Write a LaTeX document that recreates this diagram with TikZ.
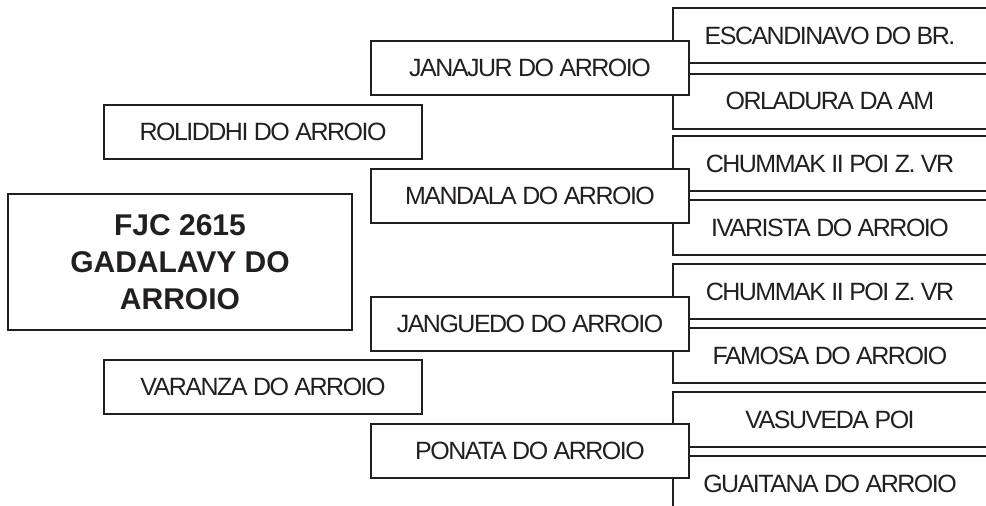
\documentclass[tikz,border=0pt]{standalone}
\usepackage{fontspec}
\setmainfont{Liberation Sans}
\newfontfamily\tightfont[LetterSpace=-6]{Liberation Sans}
\definecolor{ink}{RGB}{35,31,32}
\begin{document}
\begin{tikzpicture}[x=1pt,y=-1pt,
  line width=2pt, draw=ink, text=ink,
  lbox/.style={draw, fill=white, inner sep=0pt, minimum width=318pt, minimum height=54pt,
    font=\tightfont\fontsize{25}{30}\selectfont},
  rbox/.style={inner sep=0pt, minimum width=312pt, minimum height=53pt,
    font=\tightfont\fontsize{25}{30}\selectfont},
  mainbox/.style={draw, fill=white, inner sep=0pt, minimum width=344pt, minimum height=136pt,
    align=center, font=\fontsize{30}{37}\selectfont\bfseries},
  open/.style={draw=ink, line width=2pt}
]
\useasboundingbox (0,0) rectangle (986,506);

% right column (great-grandparents)
\node[rbox] (e1) at (830,35.5) {ESCANDINAVO DO BR.};
\node[rbox] (e2) at (830,101) {ORLADURA DA AM};
\node[rbox] (e3) at (830,163.5) {CHUMMAK II POI Z. VR};
\node[rbox] (e4) at (830,227.5) {IVARISTA DO ARROIO};
\node[rbox] (e5) at (830,291.5) {CHUMMAK II POI Z. VR};
\node[rbox] (e6) at (830,355.5) {FAMOSA DO ARROIO};
\node[rbox] (e7) at (830,419.5) {VASUVEDA POI};
\node[rbox] (e8) at (830,483.5) {GUAITANA DO ARROIO};

\foreach \n in {e1,e2,e3,e4,e5,e6,e7}{
  \draw[open] (\n.north east) -- (\n.north west) -- (\n.south west) -- (\n.south east);
}
\draw[open] (e8.north east) -- (e8.north west) -- (e8.south west |- 0,506);
\draw[open] (e1.south west) -- (e2.north west);
\draw[open] (e3.south west) -- (e4.north west);
\draw[open] (e5.south west) -- (e6.north west);
\draw[open] (e7.south west) -- (e8.north west);

% middle column (grandparents)
\node[lbox] (g1) at (530,68) {JANAJUR DO ARROIO};
\node[lbox] (g2) at (530,195.5) {MANDALA DO ARROIO};
\node[lbox] (g3) at (530,323.5) {JANGUEDO DO ARROIO};
\node[lbox] (g4) at (530,451) {PONATA DO ARROIO};

% left column
\node[lbox] (p1) at (263,131.5) {ROLIDDHI DO ARROIO};
\node[lbox] (p2) at (263,387) {VARANZA DO ARROIO};
\node[mainbox] (m) at (180,262) {FJC 2615\\GADALAVY DO\\ARROIO};
\end{tikzpicture}
\end{document}
